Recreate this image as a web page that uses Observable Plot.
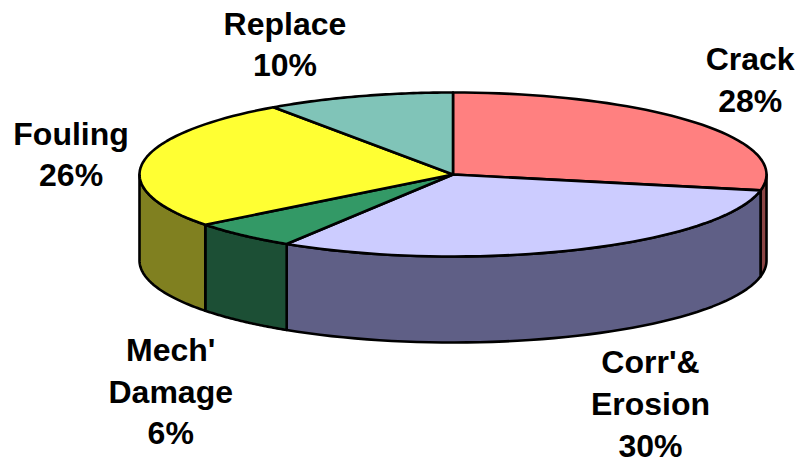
<!DOCTYPE html>
<html>
<head>
<meta charset="utf-8">
<style>html,body{margin:0;padding:0;background:#fff}svg{display:block}</style>
<script src="https://cdn.jsdelivr.net/npm/d3@7"></script>
<script src="https://cdn.jsdelivr.net/npm/@observablehq/plot@0.6"></script>
</head>
<body>
<script>
const categories = ["Crack", "Corr'&\nErosion", "Mech'\nDamage", "Fouling", "Replace"];
const shares = [28.1, 30.8, 5.6, 25.8, 9.7];
const printed = ["28%", "30%", "6%", "26%", "10%"];
const topColors = ["#ff8080", "#ccccff", "#339966", "#ffff33", "#80c4b8"];
const sideColors = ["#8b4545", "#5f5f86", "#1c4f35", "#808020", "#40625c"];

// Pie geometry and label offsets, in the plot's frame
const W = 798, H = 463;
const pie = {cx: 452.5, cy: 174, rx: 313.5, ry: 82, depth: 86};
const labelOffset = [[55, -45], [73, 152], [-72, 154], [-72, -10], [-74, -54]];

const rim = (deg, drop = 0) => {
  const a = deg * Math.PI / 180;
  return {x: pie.cx + pie.rx * Math.sin(a), y: pie.cy - pie.ry * Math.cos(a) + drop};
};
const arc = (a0, a1, drop = 0) => d3.range(0, 1.0001, 1 / 48).map(t => rim(a0 + (a1 - a0) * t, drop));

let acc = 0;
const slices = categories.map((name, i) => {
  const a0 = acc / d3.sum(shares) * 360;
  acc += shares[i];
  return {i, a0, a1: acc / d3.sum(shares) * 360};
});

const polys = [];
// Side walls: only the part of the rim on the near half (90 to 270 deg) shows
slices.forEach(s => {
  const a0 = Math.max(s.a0, 90), a1 = Math.min(s.a1, 270);
  if (a1 <= a0) return;
  const ring = [...arc(a0, a1), ...arc(a0, a1, pie.depth).reverse()];
  ring.push(ring[0]);
  ring.forEach(p => polys.push({...p, id: "side" + s.i}));
});
// Top face
slices.forEach(s => {
  const c = {x: pie.cx, y: pie.cy};
  [c, ...arc(s.a0, s.a1), c].forEach(p => polys.push({...p, id: "top" + s.i}));
});

const labels = slices.map(s => {
  const p = rim((s.a0 + s.a1) / 2);
  return {
    text: categories[s.i] + "\n" + printed[s.i],
    x: p.x + labelOffset[s.i][0],
    y: p.y + labelOffset[s.i][1]
  };
});

const chart = Plot.plot({
  width: W, height: H, margin: 0,
  x: {domain: [0, W], range: [0, W], axis: null},
  y: {domain: [0, H], range: [0, H], axis: null},
  color: {
    type: "ordinal",
    domain: [...topColors.map((_, i) => "top" + i), ...sideColors.map((_, i) => "side" + i)],
    range: [...topColors, ...sideColors]
  },
  marks: [
    Plot.line(polys, {x: "x", y: "y", z: "id", fill: "id", stroke: "#000", strokeWidth: 2.6, strokeLinejoin: "round"}),
    Plot.text(labels, {
      x: "x", y: "y", text: "text", textAnchor: "middle", lineAnchor: "middle", lineHeight: 1.3,
      fontFamily: "Liberation Sans", fontWeight: "bold", fontSize: 32, fill: "#000"
    })
  ]
});
document.body.appendChild(chart);
</script>
</body>
</html>
